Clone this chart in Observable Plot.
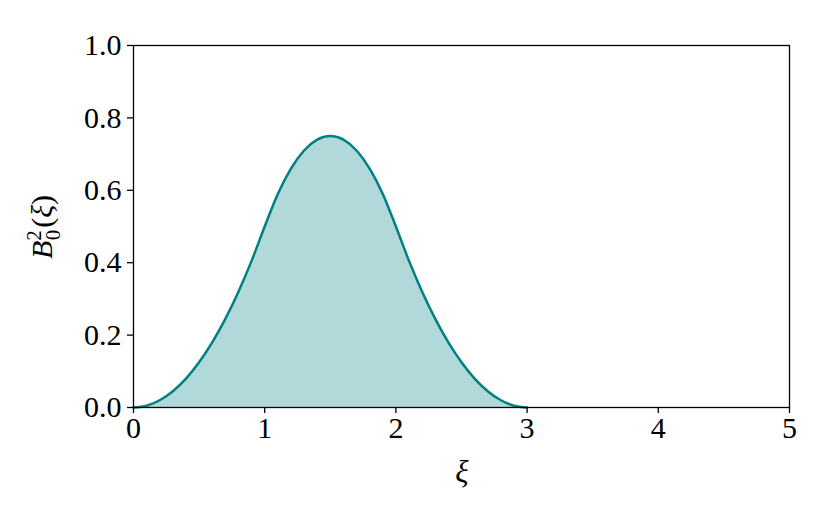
<!DOCTYPE html>
<html>
<head>
<meta charset="utf-8">
<script src="https://cdn.jsdelivr.net/npm/d3@7"></script>
<script src="https://cdn.jsdelivr.net/npm/@observablehq/plot@0.6"></script>
<style>
  body { margin: 0; background: #fff; }
  #chart { width: 830px; height: 526px; }
</style>
</head>
<body>
<div id="chart"></div>
<script>
// Values (quadratic B-spline B_0^2 on its support)
const xi = [0, 0.1, 0.2, 0.3, 0.4, 0.5, 0.6, 0.7, 0.8, 0.9, 1.0,
            1.1, 1.2, 1.3, 1.4, 1.5, 1.6, 1.7, 1.8, 1.9, 2.0,
            2.1, 2.2, 2.3, 2.4, 2.5, 2.6, 2.7, 2.8, 2.9, 3.0];
const B = [0, 0.005, 0.02, 0.045, 0.08, 0.125, 0.18, 0.245, 0.32, 0.405, 0.5,
           0.59, 0.66, 0.71, 0.74, 0.75, 0.74, 0.71, 0.66, 0.59, 0.5,
           0.405, 0.32, 0.245, 0.18, 0.125, 0.08, 0.045, 0.02, 0.005, 0];
const xTicks = [0, 1, 2, 3, 4, 5];
const yTicks = [0, 0.2, 0.4, 0.6, 0.8, 1.0];

const data = xi.map((x, i) => ({x, y: B[i]}));
const FONT = "Liberation Serif, serif";

const plot = Plot.plot({
  width: 830,
  height: 526,
  marginLeft: 133,
  marginRight: 41,
  marginTop: 45,
  marginBottom: 119,
  style: {fontFamily: FONT, fontSize: "30px", color: "#000", background: "#fff"},
  x: {domain: [0, 5], label: null},
  y: {domain: [0, 1], label: null},
  marks: [
    Plot.areaY(data, {x: "x", y: "y", fill: "#008080", fillOpacity: 0.3, curve: "monotone-x"}),
    Plot.line(data, {x: "x", y: "y", stroke: "#008080", strokeWidth: 2.5, curve: "monotone-x"}),
    Plot.frame({stroke: "#000", strokeWidth: 1.3}),
    Plot.axisX({ticks: xTicks, tickSize: 6, tickPadding: 3, tickFormat: d => String(d), label: null, strokeWidth: 1.3}),
    Plot.axisY({ticks: yTicks, tickSize: 6, tickPadding: 6, tickFormat: d => d.toFixed(1), label: null, strokeWidth: 1.3})
  ]
});
document.getElementById("chart").appendChild(plot);

// Axis titles with math styling
const svg = d3.select(plot);
svg.append("text")
  .attr("x", 462).attr("y", 482)
  .attr("text-anchor", "middle")
  .attr("font-family", FONT)
  .attr("font-style", "italic")
  .attr("font-size", 31)
  .text("ξ");

const yl = svg.append("text")
  .attr("transform", "translate(52,227) rotate(-90)")
  .attr("text-anchor", "middle")
  .attr("font-family", FONT)
  .attr("font-size", 30);
yl.append("tspan").attr("font-style", "italic").text("B");
yl.append("tspan").attr("font-size", 21).attr("dy", -11).text("2");
yl.append("tspan").attr("font-size", 21).attr("dx", -10).attr("dy", 19).text("0");
yl.append("tspan").attr("dx", 2).attr("dy", -8).text("(");
yl.append("tspan").attr("font-style", "italic").text("ξ");
yl.append("tspan").text(")");
</script>
</body>
</html>
